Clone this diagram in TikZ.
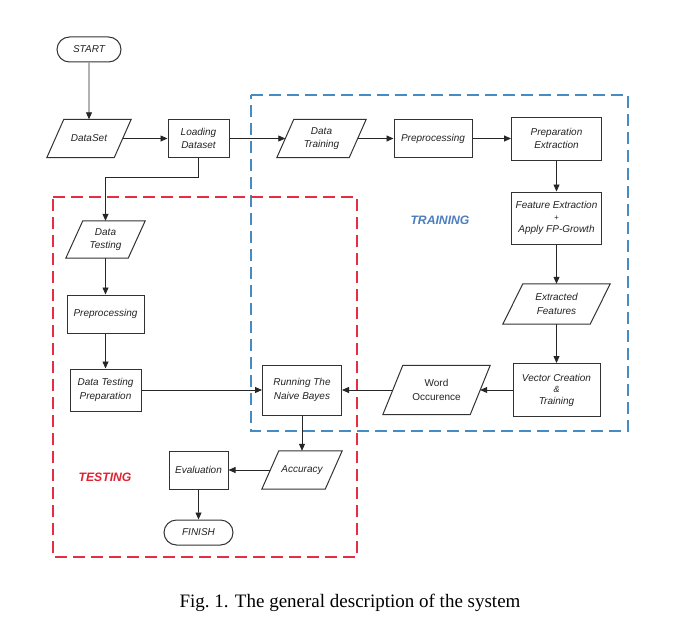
\documentclass[tikz,border=0pt]{standalone}
\usepackage{fontspec}
\setmainfont{Liberation Serif}
\newfontfamily\boxfont{Liberation Sans}
\usetikzlibrary{arrows.meta,shapes.misc}
\definecolor{boxgray}{RGB}{50,50,50}
\definecolor{txtgray}{RGB}{35,35,35}
\definecolor{trainblue}{RGB}{70,140,195}
\definecolor{trainlbl}{RGB}{75,125,190}
\definecolor{regionred}{RGB}{230,45,65}
\definecolor{testlbl}{RGB}{220,35,50}
\newcommand{\drawpara}[2]{%
  \draw[boxline] ([xshift=-#2/2]#1.south west) -- ([xshift=-#2/2]#1.south east)
    -- ([xshift=#2/2]#1.north east) -- ([xshift=#2/2]#1.north west) -- cycle;}
\begin{document}
\begin{tikzpicture}[x=1pt,y=-1pt,
  boxline/.style={draw=boxgray, line width=1pt, line join=miter},
  boxtxt/.style={inner sep=0pt, align=center, text=txtgray,
    font=\boxfont\itshape\fontsize{10}{13.5}\selectfont},
  rectbox/.style={boxtxt, boxline},
  termbox/.style={boxtxt, boxline, shape=rounded rectangle},
  parabox/.style={boxtxt},
  arr/.style={draw=black!85, line width=0.8pt, -{Triangle[length=7pt,width=6pt]}},
  region/.style={line width=1.2pt, dash pattern=on 12pt off 6pt},
  lbl/.style={font=\boxfont\bfseries\itshape\fontsize{12.2}{14}\selectfont}
]
\useasboundingbox (0,0) rectangle (700,623);

% regions
\draw[region, draw=trainblue] (251,95) -- (628,95) -- (628,431) -- (251,431) -- cycle;
\draw[region, draw=regionred] (53,197) -- (357,197) -- (357,557) -- (53,557) -- cycle;
\node[lbl, text=trainlbl] (trainlabel) at (440,220) {TRAINING};
\node[lbl, text=testlbl] (testlabel) at (105,477) {TESTING};

% nodes
\node[termbox, minimum width=64pt, minimum height=25pt] (start) at (89,49.5) {START};
\node[parabox, minimum width=67pt, minimum height=38pt] (ds) at (89,138.5) {DataSet};
\node[rectbox, minimum width=61pt, minimum height=38pt] (load) at (198.5,138.5) {Loading\\Dataset};
\node[parabox, minimum width=72pt, minimum height=38pt] (dtrain) at (321.5,138.5) {Data\\Training};
\node[rectbox, minimum width=78pt, minimum height=38pt] (pre) at (433,138.5) {Preprocessing};
\node[rectbox, minimum width=90pt, minimum height=43pt] (prepext) at (556.5,138.5) {Preparation\\Extraction};
\node[rectbox, minimum width=90pt, minimum height=52pt] (featext) at (556.5,218) {Feature Extraction\\[-2pt]{\fontsize{8}{8}\selectfont +}\\[-1pt]Apply FP-Growth};
\node[parabox, minimum width=87pt, minimum height=40pt] (extf) at (556.5,304) {Extracted\\Features};
\node[rectbox, minimum width=87pt, minimum height=53pt] (vec) at (556.5,390) {Vector Creation\\[-2pt]{\fontsize{9}{9}\selectfont\&}\\[-2pt]Training};
\node[parabox, minimum width=87pt, minimum height=49pt, font=\boxfont\fontsize{10}{13.5}\selectfont] (word) at (436.5,390) {Word\\Occurence};
\node[rectbox, minimum width=79pt, minimum height=50pt] (run) at (302,390) {Running The\\Naive Bayes};
\node[parabox, minimum width=62pt, minimum height=37pt] (dtest) at (105.5,239.5) {Data\\Testing};
\node[rectbox, minimum width=77pt, minimum height=38pt] (pretest) at (105.5,314) {Preprocessing};
\node[rectbox, minimum width=71pt, minimum height=42pt] (dtprep) at (105.5,390) {Data Testing\\Preparation};
\node[parabox, minimum width=63pt, minimum height=38pt] (acc) at (302,470) {Accuracy};
\node[rectbox, minimum width=59pt, minimum height=38pt] (eval) at (198.5,470) {Evaluation};
\node[termbox, minimum width=69pt, minimum height=25pt] (finish) at (198.5,532.5) {FINISH};

% parallelogram outlines
\drawpara{ds}{17pt}
\drawpara{dtrain}{17pt}
\drawpara{extf}{20pt}
\drawpara{word}{20pt}
\drawpara{dtest}{17pt}
\drawpara{acc}{17pt}

% connectors
\coordinate (bend) at (105.5,177);
\draw[arr] (start) -- (ds);
\draw[arr] (ds) -- (load);
\draw[arr] (load) -- (dtrain);
\draw[arr] (dtrain) -- (pre);
\draw[arr] (pre) -- (prepext);
\draw[arr] (prepext) -- (featext);
\draw[arr] (featext) -- (extf);
\draw[arr] (extf) -- (vec);
\draw[arr] (vec) -- (word);
\draw[arr] (word) -- (run);
\draw[arr] (dtprep) -- (run);
\draw[arr] (load.south) |- (bend) -- (dtest.north);
\draw[arr] (dtest) -- (pretest);
\draw[arr] (pretest) -- (dtprep);
\draw[arr] (run) -- (acc);
\draw[arr] (acc) -- (eval);
\draw[arr] (eval) -- (finish);

% caption
\node[font=\fontsize{19}{22}\selectfont, anchor=base] (caption) at (350,607) {Fig.~1. The general description of the system};
\end{tikzpicture}
\end{document}
